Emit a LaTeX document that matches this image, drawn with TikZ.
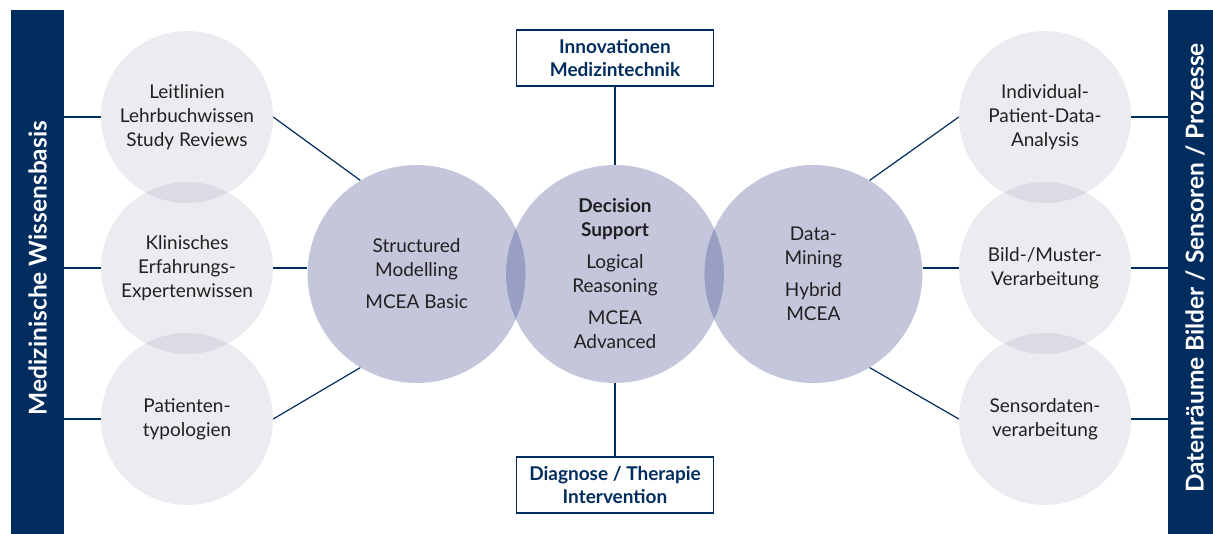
\documentclass[tikz,border=0pt]{standalone}
\usepackage{fontspec}
\setmainfont{Lato}
\usetikzlibrary{positioning}
\definecolor{navy}{RGB}{0,44,94}
\definecolor{bubble}{RGB}{42,55,128}
\definecolor{greybub}{RGB}{60,70,112}
\definecolor{ink}{RGB}{35,31,32}

\tikzset{
    small/.style={circle, fill=greybub, fill opacity=0.1, text opacity=1, minimum size=172pt,
        inner sep=0pt, align=center, text=ink, font=\fontsize{19}{24}\selectfont},
    big/.style={circle, fill=bubble, fill opacity=0.28, text opacity=1, minimum size=218pt,
        inner sep=0pt, align=center, text=ink, font=\fontsize{19}{24}\selectfont},
    infobox/.style={draw=navy, line width=1.3pt, minimum width=197pt, minimum height=56pt,
        inner sep=0pt, align=center, text=navy, font=\bfseries\fontsize{19}{23}\selectfont},
    link/.style={navy, line width=1.2pt},
    bartext/.style={text=white, font=\bfseries\fontsize{24.5}{28}\selectfont}
}

\begin{document}
\begin{tikzpicture}[x=1pt, y=-1pt]
    \clip (0,0) rectangle (1213,534);

    % seitliche Balken
    \fill[navy] (11,10) rectangle (64,545);
    \fill[navy] (1168,10) rectangle (1222,545);
    \coordinate (barL) at (64,0);
    \coordinate (barR) at (1168,0);
    \node[bartext, rotate=90] (basis) at (37.5,268) {Medizinische Wissensbasis};
    \node[bartext, rotate=90] (daten) at (1195,268) {Datenräume Bilder / Sensoren / Prozesse};

    % grosse Kreise
    \node[big] (bigM) at (615,274) {\textbf{Decision}\\\textbf{Support}\\[8pt]Logical\\Reasoning\\[8pt]MCEA\\Advanced};
    \node[big, left=-20pt of bigM] (bigL) {Structured\\Modelling\\[8pt]MCEA Basic};
    \node[big, right=-20pt of bigM] (bigR) {Data-\\Mining\\[8pt]Hybrid\\MCEA};

    % kleine Kreise links
    \node[small] (sl1) at (187,117) {Leitlinien\\Lehrbuchwissen\\Study Reviews};
    \node[small] (sl2) at (187,268) {Klinisches\\Erfahrungs-\\Expertenwissen};
    \node[small] (sl3) at (187,419) {Patienten-\\typologien};

    % kleine Kreise rechts
    \node[small] (sr1) at (1045,117) {Individual-\\Patient-Data-\\Analysis};
    \node[small] (sr2) at (1045,268) {Bild-/Muster-\\Verarbeitung};
    \node[small] (sr3) at (1045,419) {Sensordaten-\\verarbeitung};

    % Kaesten
    \node[infobox, above=78pt of bigM] (innov) {Innovationen\\Medizintechnik};
    \node[infobox, below=73pt of bigM] (diag) {Diagnose / Therapie\\Intervention};

    % Verbindungen
    \draw[link] (barL |- sl1) -- (sl1.west);
    \draw[link] (barL |- sl2) -- (sl2.west);
    \draw[link] (barL |- sl3) -- (sl3.west);
    \draw[link] (sr1.east) -- (barR |- sr1);
    \draw[link] (sr2.east) -- (barR |- sr2);
    \draw[link] (sr3.east) -- (barR |- sr3);
    \draw[link] (sl1.east) -- (bigL.121);
    \draw[link] (sl2.east) -- (sl2.east -| bigL.west);
    \draw[link] (sl3.east) -- (bigL.239);
    \draw[link] (bigR.59) -- (sr1.west);
    \draw[link] (sr2.west -| bigR.east) -- (sr2.west);
    \draw[link] (bigR.301) -- (sr3.west);
    \draw[link] (innov) -- (bigM);
    \draw[link] (diag) -- (bigM);
\end{tikzpicture}
\end{document}
